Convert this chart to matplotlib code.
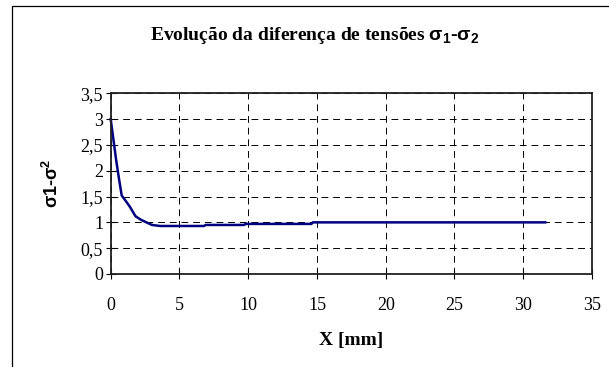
import matplotlib.pyplot as plt
from matplotlib.patches import Rectangle

plt.rcParams['mathtext.fontset'] = 'custom'
plt.rcParams['mathtext.rm'] = 'Liberation Sans:bold'
plt.rcParams['mathtext.it'] = 'Liberation Sans:bold'
plt.rcParams['mathtext.bf'] = 'Liberation Sans:bold'

# distance X [mm] and stress difference sigma1 - sigma2
x_mm = [0.0, 0.2, 0.4, 0.6, 0.8, 1.0, 1.4, 1.8, 2.2, 2.6, 3.0, 3.6,
        6.8, 6.9, 9.7, 9.8, 14.6, 14.7, 31.6]
sigma_diff = [3.0, 2.6, 2.2, 1.85, 1.52, 1.45, 1.3, 1.12, 1.05, 1.0, 0.95, 0.93,
              0.93, 0.95, 0.95, 0.97, 0.97, 1.0, 1.0]

x_ticks = [0, 5, 10, 15, 20, 25, 30, 35]
y_ticks = [0, 0.5, 1, 1.5, 2, 2.5, 3, 3.5]
y_ticklabels = ['0', '0,5', '1', '1,5', '2', '2,5', '3', '3,5']

fig = plt.figure(figsize=(6.09, 3.67), dpi=100)

# outer chart frame (extends past right and bottom edges)
fig.patches.append(Rectangle((12 / 609, -0.05), 1.0, 1 - 6 / 367 + 0.05,
                             transform=fig.transFigure, fill=False,
                             edgecolor='black', linewidth=0.9))

ax = fig.add_axes([110.7 / 609, 1 - 274 / 367, (592 - 110.7) / 609, (274 - 93.3) / 367])
ax.plot(x_mm, sigma_diff, color='#000080', linewidth=1.8, clip_on=False)

ax.set_xlim(0, 35)
ax.set_ylim(0, 3.5)
ax.set_xticks(x_ticks)
ax.set_yticks(y_ticks)
ax.set_yticklabels(y_ticklabels)
for lab in ax.get_xticklabels() + ax.get_yticklabels():
    lab.set_family('Liberation Serif')
    lab.set_fontsize(13)
ax.tick_params(axis='x', direction='inout', length=7, width=0.8, pad=13)
ax.tick_params(axis='y', direction='inout', length=7, width=0.8, pad=2)
ax.grid(True, color='black', linestyle=(0, (7, 5)), linewidth=0.7)
for s in ax.spines.values():
    s.set_linewidth(1.3)
    s.set_color('#202020')

fig.text(315 / 609, 1 - 35 / 367,
         r'Evolução da diferença de tensões $\sigma_1$-$\sigma_2$',
         ha='center', va='center', family='Liberation Serif',
         fontweight='bold', fontsize=14)
fig.text(351 / 609, 1 - 340 / 367, 'X [mm]', ha='center', va='center',
         family='Liberation Serif', fontweight='bold', fontsize=14)
fig.text(52 / 609, 1 - 183 / 367, r'σ1-σ$^2$', ha='center', va='center',
         rotation=90, family='Liberation Sans', fontweight='bold', fontsize=13)

fig.savefig('out.png', dpi=100)
